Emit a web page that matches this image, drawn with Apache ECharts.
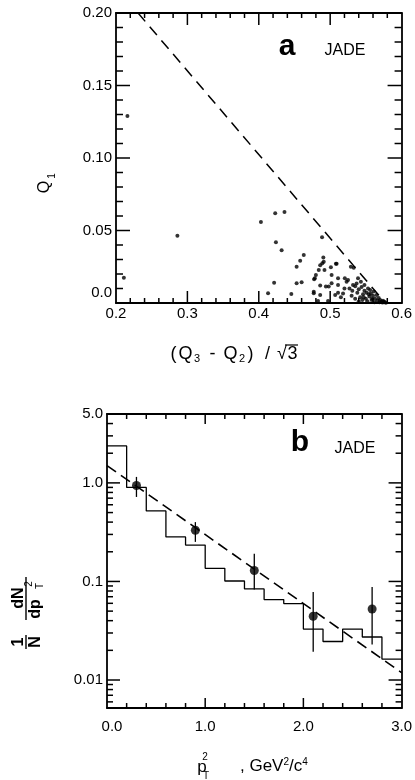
<!DOCTYPE html>
<html><head><meta charset="utf-8">
<script src="https://cdn.jsdelivr.net/npm/echarts@6/dist/echarts.min.js"></script>
<style>html,body{margin:0;padding:0;background:#fff}#c{width:415px;height:780px}</style>
</head><body><div id="c"></div>
<script>
// ---- Panel a: event scatter ----
const scatterX = [0.216,0.211,0.286,0.403,0.423,0.436,0.424,0.432,0.4215,0.413,0.4456,0.453,0.458,0.463,0.453,0.460,0.4775,0.477,0.4886,0.4904,0.489,0.501,0.509,0.529,0.533,0.484,0.492,0.480,0.4785,0.502,0.511,0.5205,0.525,0.486,0.494,0.498,0.502,0.511,0.523,0.539,0.543,0.532,0.477,0.486,0.507,0.511,0.483,0.497,0.508,0.491,0.486,
  0.527,0.531,0.535,0.538,0.540,0.542,0.544,0.546,0.548,0.550,0.551,0.553,0.555,0.557,0.558,0.560,0.561,0.563,0.565,0.566,0.568,0.570,0.572,0.574,0.575,0.576,0.545,0.535,0.530,0.520,0.518,0.515,0.537,0.548,0.552,0.562,0.556,0.540,0.569,0.573,0.578,0.559,0.554,0.547];
const scatterY = [0.129,0.0175,0.0464,0.0559,0.0619,0.0628,0.0419,0.0363,0.014,0.0067,0.0062,0.025,0.0292,0.0331,0.0136,0.0143,0.0163,0.0067,0.0453,0.0313,0.0274,0.0246,0.0271,0.025,0.0243,0.0228,0.0228,0.0193,0.017,0.0193,0.017,0.017,0.0159,0.012,0.0113,0.0113,0.0136,0.0124,0.0147,0.017,0.0147,0.0124,0.0078,0.0055,0.0055,0.0071,0.0014,0.0014,0.027,0.0285,0.026,
  0.0100,0.0085,0.0115,0.0070,0.0095,0.0040,0.0110,0.0060,0.0085,0.0030,0.0070,0.0100,0.0045,0.0065,0.0020,0.0050,0.0080,0.0030,0.0055,0.0015,0.0035,0.0020,0.0010,0.0015,0.0005,0.0008,0.0020,0.0030,0.0050,0.0100,0.0065,0.0040,0.0135,0.0125,0.0012,0.0005,0.0090,0.0010,0.0005,0.0003,0.0002,0.0030,0.0060,0.0040];
const limitX = [0.2309, 0.5774];
const limitY = [0.20, 0.0];

// ---- Panel b: pT^2 distribution ----
const histEdges = [0,0.2,0.4,0.6,0.8,1.0,1.2,1.4,1.6,1.8,2.0,2.2,2.4,2.6,2.8,3.0];
const histValues = [2.37,0.90,0.52,0.283,0.234,0.136,0.101,0.084,0.0655,0.0597,0.0329,0.0246,0.0329,0.0273,0.0163];
const ptX = [0.3,0.9,1.5,2.1,2.7];
const ptY = [0.94,0.331,0.129,0.0443,0.0526];
const ptLo = [0.72,0.252,0.083,0.0194,0.0229];
const ptHi = [1.15,0.40,0.191,0.078,0.088];
const fitX = [0.0, 3.0];
const fitY = [1.50, 0.0119];
const logLabels = {'5':'5.0','1':'1.0','0.1':'0.1','0.01':'0.01'};

const FONT = 'Liberation Sans';
const BLACK = '#000';

function linAxis(o) {
  return Object.assign({
    type:'value', splitLine:{show:false},
    axisLine:{show:true, onZero:false, lineStyle:{color:BLACK, width:1.8}},
    axisTick:{show:false}, minorTick:{show:false},
    axisLabel:{show:true, color:BLACK, fontFamily:FONT, fontSize:15, margin:5}
  }, o);
}

const scatterData = scatterX.map((x,i)=>[x, scatterY[i]]);
const histData = histEdges.map((e,i)=>[e, histValues[Math.min(i, histValues.length-1)]]);

// axis tick positions (decoration)
const aXMaj=[], aXMin=[], aYMaj=[], aYMin=[];
for (let i=1; i<20; i++) (i%5===0 ? aXMaj : aXMin).push(0.2 + i*0.02);
for (let i=1; i<20; i++) (i%5===0 ? aYMaj : aYMin).push(i*0.01);
const bXMaj=[], bXMin=[], bYMaj=[], bYMin=[];
for (let i=1; i<15; i++) (i%5===0 ? bXMaj : bXMin).push(i*0.2);
for (let d=-3; d<=0; d++) for (let m=1; m<=9; m++) {
  const v = m*Math.pow(10,d);
  if (v >= 0.0053 && v <= 4.99) (m===1 ? bYMaj : bYMin).push(v);
}

// side: 'b','t' (x ticks) or 'l','r' (y ticks); each item drawn as one inward line
function tickSeries(xi, yi, vals, side, len, xr, yr) {
  const data = vals.map(v => side==='b' ? [v, yr[0]] : side==='t' ? [v, yr[1]] : side==='l' ? [xr[0], v] : [xr[1], v]);
  return {type:'custom', xAxisIndex:xi, yAxisIndex:yi, silent:true,
    data:data, encode:{x:0, y:1},
    renderItem:(params, api)=>{
      const p = api.coord([api.value(0), api.value(1)]);
      let x2 = p[0], y2 = p[1];
      if (side==='b') y2 -= len; else if (side==='t') y2 += len;
      else if (side==='l') x2 += len; else x2 -= len;
      return {type:'line', shape:{x1:p[0], y1:p[1], x2:x2, y2:y2}, style:{stroke:BLACK, lineWidth:1.5}};
    }};
}
function allTicks(xi, yi, xr, yr, xMaj, xMin, yMaj, yMin, L) {
  const out = [];
  ['b','t'].forEach(s => { out.push(tickSeries(xi, yi, xMaj, s, L[0], xr, yr)); out.push(tickSeries(xi, yi, xMin, s, L[1], xr, yr)); });
  ['l','r'].forEach(s => { out.push(tickSeries(xi, yi, yMaj, s, L[2], xr, yr)); out.push(tickSeries(xi, yi, yMin, s, L[3], xr, yr)); });
  return out;
}

function txt(x, y, s, fs, extra) {
  return {type:'text', x:x, y:y, style:Object.assign({text:s, fontFamily:FONT, fontSize:fs, fill:BLACK, align:'center', verticalAlign:'middle'}, extra||{})};
}

const chart = echarts.init(document.getElementById('c'), null, {renderer:'canvas'});
chart.setOption({
  animation:false,
  backgroundColor:'#fff',
  grid:[
    {left:116, top:13, width:292, height:290},
    {left:107, top:414, width:300, height:294}
  ],
  xAxis:[
    linAxis({gridIndex:0, position:'bottom', min:0.2, max:0.6, interval:0.1,
      axisLabel:{color:BLACK, fontFamily:FONT, fontSize:15, margin:3, formatter:v=>v.toFixed(1)}}),
    linAxis({gridIndex:0, position:'top', min:0.2, max:0.6, interval:0.1, axisLabel:{show:false}}),
    linAxis({gridIndex:1, position:'bottom', min:0, max:3, interval:1,
      axisLabel:{color:BLACK, fontFamily:FONT, fontSize:15, margin:11,
        formatter:v=> v===0 ? '{z|0.0}' : v.toFixed(1), rich:{z:{padding:[0,0,0,10]}}}}),
    linAxis({gridIndex:1, position:'top', min:0, max:3, interval:1, axisLabel:{show:false}})
  ],
  yAxis:[
    linAxis({gridIndex:0, position:'left', min:0, max:0.2, interval:0.05,
      axisLabel:{color:BLACK, fontFamily:FONT, fontSize:15, margin:4,
        formatter:v=> v===0 ? '{z|0.0}' : v.toFixed(2), rich:{z:{padding:[0,0,20,0]}}}}),
    linAxis({gridIndex:0, position:'right', min:0, max:0.2, interval:0.05, axisLabel:{show:false}}),
    {type:'log', logBase:10, gridIndex:1, position:'left', min:0.0052, max:5,
      splitLine:{show:false}, axisTick:{show:false}, minorTick:{show:false},
      axisLine:{show:true, onZero:false, lineStyle:{color:BLACK, width:1.8}},
      axisLabel:{show:true, color:BLACK, fontFamily:FONT, fontSize:15, margin:4, interval:0,
        showMinLabel:true, showMaxLabel:true, hideOverlap:false,
        formatter:v=>{
          for (const k in logLabels) { const t=parseFloat(k); if (Math.abs(v-t) < t*1e-4) return logLabels[k]; }
          return '';
        }}},
    {type:'log', logBase:10, gridIndex:1, position:'right', min:0.0052, max:5,
      splitLine:{show:false}, axisTick:{show:false}, minorTick:{show:false},
      axisLine:{show:true, onZero:false, lineStyle:{color:BLACK, width:1.8}},
      axisLabel:{show:false}}
  ],
  series:[].concat(
    allTicks(0,0,[0.2,0.6],[0,0.2], aXMaj, aXMin, aYMaj, aYMin, [12,5,14,7]),
    allTicks(2,2,[0,3],[0.0052,5], bXMaj, bXMin, bYMaj, bYMin, [10,5,13,6]),
  [
    {type:'scatter', xAxisIndex:0, yAxisIndex:0, data:scatterData, symbol:'circle', symbolSize:4,
      itemStyle:{color:BLACK}, silent:true},
    {type:'line', xAxisIndex:0, yAxisIndex:0, data:limitX.map((x,i)=>[x,limitY[i]]), showSymbol:false,
      lineStyle:{color:BLACK, width:1.5, type:[11,7]}, silent:true},
    {type:'line', xAxisIndex:2, yAxisIndex:2, data:histData, step:'end', showSymbol:false,
      lineStyle:{color:BLACK, width:1.3}, silent:true},
    {type:'line', xAxisIndex:2, yAxisIndex:2, data:fitX.map((x,i)=>[x,fitY[i]]), showSymbol:false,
      lineStyle:{color:BLACK, width:1.6, type:[11,6]}, silent:true},
    {type:'custom', xAxisIndex:2, yAxisIndex:2, silent:true,
      data:ptX.map((x,i)=>[x, ptLo[i], ptHi[i]]),
      encode:{x:0, y:[1,2]},
      renderItem:(params, api)=>{
        const a = api.coord([api.value(0), api.value(1)]);
        const b = api.coord([api.value(0), api.value(2)]);
        return {type:'line', shape:{x1:a[0], y1:a[1], x2:b[0], y2:b[1]}, style:{stroke:BLACK, lineWidth:1.3}};
      }},
    {type:'scatter', xAxisIndex:2, yAxisIndex:2, data:ptX.map((x,i)=>[x, ptY[i]]), symbol:'circle',
      symbolSize:9, itemStyle:{color:BLACK}, silent:true}
  ]),
  graphic:[
    txt(287, 47, 'a', 30, {fontWeight:'bold'}),
    txt(345, 51, 'JADE', 16),
    txt(300, 443, 'b', 30, {fontWeight:'bold'}),
    txt(355, 449, 'JADE', 16),
    // Q1 label
    Object.assign(txt(45, 187, 'Q', 16), {rotation:Math.PI/2}),
    Object.assign(txt(52, 176, '1', 10), {rotation:Math.PI/2}),
    // x title panel a: (Q3 - Q2) / sqrt3
    txt(173.5, 354, '(', 18), txt(185.5, 354, 'Q', 18), txt(197, 359, '3', 11),
    txt(212.5, 354, '-', 18), txt(230.5, 354, 'Q', 18), txt(242, 359, '2', 11),
    txt(250.5, 354, ')', 18), txt(267.5, 354, '/', 18), txt(282, 354, '√', 18), txt(292.5, 354, '3', 18),
    {type:'line', shape:{x1:285, y1:345, x2:298, y2:345}, style:{stroke:BLACK, lineWidth:1.2}},
    // x title panel b
    txt(202, 767, 'p', 17),
    txt(205, 757, '2', 10),
    txt(206, 776, 'T', 10),
    txt(240, 766, ', GeV{u|2}/c{u|4}', 17, {align:'left', rich:{u:{fontSize:10, fontFamily:FONT, verticalAlign:'top'}}}),
    // y title panel b (rotated fractions)
    {type:'group', x:26, y:612, rotation:Math.PI/2, children:[
      txt(-30, -7, '1', 16, {fontWeight:'bold'}),
      {type:'line', shape:{x1:-37, y1:0, x2:-23, y2:0}, style:{stroke:BLACK, lineWidth:1.4}},
      txt(-30, 10, 'N', 16, {fontWeight:'bold'}),
      txt(14, -7, 'dN', 16, {fontWeight:'bold'}),
      {type:'line', shape:{x1:-8, y1:0, x2:35, y2:0}, style:{stroke:BLACK, lineWidth:1.4}},
      txt(3, 10, 'dp', 16, {fontWeight:'bold'}),
      txt(26, 14, 'T', 10),
      txt(28, 3, '2', 10)
    ]}
  ]
});
</script>
</body></html>
